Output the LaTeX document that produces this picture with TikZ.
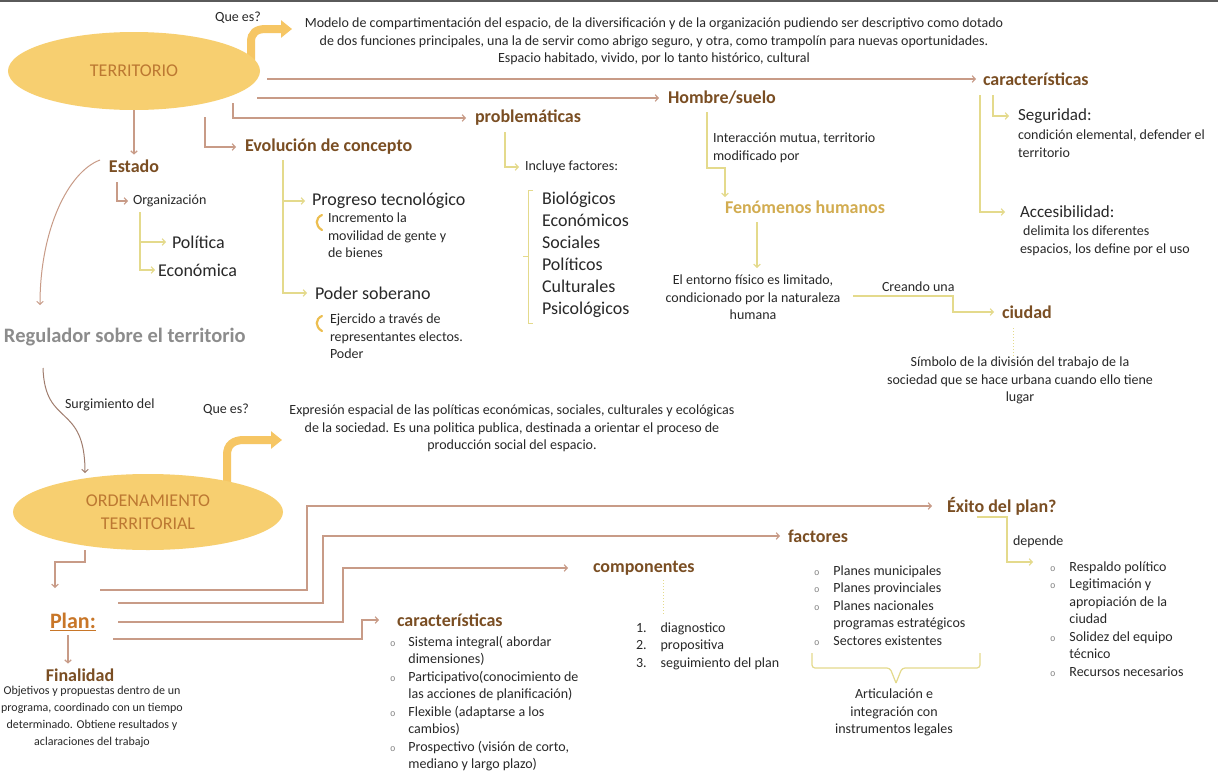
\documentclass[tikz,border=0pt]{standalone}
\usepackage{fontspec}
\setmainfont{Carlito}
\newfontfamily\bulf{Liberation Mono}
\usetikzlibrary{arrows.meta,shapes.geometric}
\definecolor{ellf}{RGB}{247,207,112}
\definecolor{ellt}{RGB}{188,120,50}
\definecolor{headc}{RGB}{122,78,35}
\definecolor{fenc}{RGB}{210,172,80}
\definecolor{planc}{RGB}{200,118,40}
\definecolor{rosec}{RGB}{200,155,135}
\definecolor{yelc}{RGB}{228,218,140}
\definecolor{fatc}{RGB}{246,198,100}
\definecolor{regc}{RGB}{140,140,140}
\definecolor{txt}{RGB}{40,40,40}
\definecolor{curlc}{RGB}{236,190,80}
\newcommand{\fs}[2]{\fontsize{#1}{#2}\selectfont}
\newcommand{\bul}{{\bulf\color{gray}\fontsize{9}{9}\selectfont o}}
\begin{document}
\begin{tikzpicture}[x=1pt,y=-1pt,
  every node/.style={inner sep=0pt, outer sep=0pt, text=txt},
  body/.style={font=\fs{14}{17.5}},
  head/.style={font=\fs{18}{22}\bfseries, text=headc},
  big/.style={font=\fs{18}{22}},
  ell/.style={ellipse, fill=ellf, text=ellt, font=\fs{18}{23}, align=center},
  rl/.style={draw=rosec, line width=1.2pt},
  yl/.style={draw=yelc, line width=1.2pt},
  tip/.style={-{Straight Barb[length=3pt,width=6.5pt]}},
  fat/.style={draw=fatc, line width=8pt, -{Triangle[length=11pt,width=17pt]}},
  curl/.style={draw=curlc, line width=2.2pt, line cap=round},
]
\useasboundingbox (0,0) rectangle (1218,771);
\fill[white] (0,0) rectangle (1218,771);
\draw[line width=2pt, draw={rgb,255:red,90;green,90;blue,90}] (0,1) -- (1218,1);

% ---------- fat arrows (under ellipses)
\coordinate (f1a) at (251,62);
\coordinate (f1b) at (292,29);
\draw[fat] (f1a) -- (251,42) .. controls (251,33) and (256,29) .. (266,29) -- (f1b);
\coordinate (f2a) at (227,486);
\coordinate (f2b) at (282,440);
\draw[fat] (f2a) -- (227,455) .. controls (227,445) and (233,440) .. (244,440) -- (f2b);

% ---------- top half nodes
\node[ell, minimum width=252pt, minimum height=78pt] (terr) at (134,71) {TERRITORIO};
\node[body] (qe1) at (238,18) {Que es?};
\node[body, align=center, anchor=north] (modelo) at (654,18) {Modelo de compartimentación del espacio, de la diversificación y de la organización pudiendo ser descriptivo como dotado\\de dos funciones principales, una la de servir como abrigo seguro, y otra, como trampolín para nuevas oportunidades.\\Espacio habitado, vivido, por lo tanto histórico, cultural};

\node[head, anchor=west] (carac1) at (983,79) {características};
\node[head, anchor=west] (hombre) at (668,98) {Hombre/suelo};
\node[head, anchor=west] (probl) at (475,118) {problemáticas};
\node[head, anchor=west] (evol) at (245,147) {Evolución de concepto};
\node[head] (estado) at (134,166) {Estado};

\node[body, anchor=west] (org) at (133,201) {Organización};
\node[big, anchor=west] (pol) at (172,242) {Política};
\node[big, anchor=west] (eco) at (158,270) {Económica};

\node[big, anchor=west] (prog) at (312,201) {Progreso tecnológico};
\node[big, anchor=west] (poder) at (315,293) {Poder soberano};
\node[body, align=left, anchor=north west] (incr) at (328,213) {Incremento la\\movilidad de gente y\\de bienes};
\node[body, align=left, anchor=north west] (ejer) at (330,314) {Ejercido a través de\\representantes electos.\\Poder};

\node[body, anchor=west] (incl) at (525,167) {Incluye factores:};
\node[big, align=left, anchor=north west] (facts) at (542,192) {Biológicos\\Económicos\\Sociales\\Políticos\\Culturales\\Psicológicos};

\node[body, align=left, anchor=north west] (inter) at (713,133) {Interacción mutua, territorio\\modificado por};
\node[font=\fs{18}{22}\bfseries, text=fenc, anchor=west] (fen) at (725,207) {Fenómenos humanos};
\node[body, align=center, anchor=north] (ent) at (753,275) {El entorno físico es limitado,\\condicionado por la naturaleza\\humana};
\node[body, anchor=west] (crea) at (882,287) {Creando una};
\node[head, anchor=west] (ciudad) at (1002,312) {ciudad};
\node[body, align=center, anchor=north] (simb) at (1020,357) {Símbolo de la división del trabajo de la\\sociedad que se hace urbana cuando ello tiene\\lugar};

\node[font=\fs{17}{20}, anchor=west] (seg) at (1018,116) {Seguridad:};
\node[body, align=left, anchor=north west] (segt) at (1018,130) {condición elemental, defender el\\territorio};
\node[font=\fs{17}{20}, anchor=west] (acc) at (1020,212) {Accesibilidad:};
\node[body, align=left, anchor=north west] (acct) at (1020,226) {\ delimita los diferentes\\espacios, los define por el uso};

\node[font=\fs{20.5}{24}\bfseries, text=regc, anchor=west] (reg) at (4,337) {Regulador sobre el territorio};
\node[body, anchor=west] (surg) at (65,405) {Surgimiento del};

% ---------- top half connectors
\coordinate (t1) at (267,79);
\draw[rl,tip] (t1) -- ([xshift=-7pt]carac1.west);
\coordinate (t2) at (257,98);
\draw[rl,tip] (t2) -- ([xshift=-9pt]hombre.west);
\coordinate (t3) at (233,103);
\draw[rl,tip] (t3) |- ([xshift=-9pt]probl.west);
\coordinate (t4) at (205,117);
\draw[rl,tip] (t4) |- ([xshift=-9pt]evol.west);
\draw[rl,tip] (terr.south) -- ([yshift=5pt]estado.north);
\coordinate (e1) at (100,160);
\coordinate (regin) at (40,305);
\draw[draw=rosec, line width=1pt, tip] (e1) .. controls (68,172) and (40,230) .. (regin);
\coordinate (r1) at (43,368);
\coordinate (ordin) at (85,473);
\draw[draw={rgb,255:red,160;green,125;blue,110}, line width=1pt, tip] (r1) .. controls (45,428) and (85,402) .. (ordin);

\coordinate (e2) at (117,182);
\draw[rl,tip] (e2) |- ([xshift=-5pt]org.west);
\coordinate (o1) at (140,212);
\draw[yl,tip] (o1) |- ([xshift=-6pt]pol.west);
\draw[yl,tip] (o1) |- ([xshift=-3pt]eco.west);

\coordinate (v1) at (283,160);
\draw[yl,tip] (v1) |- ([xshift=-7pt]prog.west);
\draw[yl,tip] (v1) |- ([xshift=-8pt]poder.west);
\draw[curl] (322,215) .. controls (315,218) and (315,226) .. (322,230);
\draw[curl] (322,316) .. controls (315,319) and (315,327) .. (322,331);

\coordinate (p1) at (505,132);
\draw[yl,tip] (p1) |- ([xshift=-6pt]incl.west);
\draw[draw=yelc, line width=1pt] (533,190) -- (528,190) -- (528,323) -- (533,323);
\draw[draw=yelc, line width=1pt] (528,256) -- (523,256);

\coordinate (h1) at (707,112);
\coordinate (fenin) at (725,197);
\draw[yl,tip] (h1) -- (707,168) -- (725,168) -- (fenin);
\coordinate (fo) at (757,222);
\coordinate (entin) at (757,268);
\draw[yl,tip] (fo) -- (entin);
\coordinate (en1) at (853,296);
\draw[yl,tip] (en1) -- (953,296) -- (953,312) -- ([xshift=-8pt]ciudad.west);
\coordinate (c1) at (1013,328);
\coordinate (c2) at (1013,356);
\draw[draw=yelc, line width=1pt, dotted] (c1) -- (c2);

\coordinate (k1) at (993,95);
\draw[yl,tip] (k1) |- ([xshift=-9pt]seg.west);
\coordinate (k2) at (980,95);
\draw[yl,tip] (k2) |- ([xshift=-15pt]acc.west);

% ---------- lower half nodes
\node[ell, minimum width=270pt, minimum height=76pt] (ord) at (148,512) {ORDENAMIENTO\\TERRITORIAL};
\node[body] (qe2) at (226,410) {Que es?};
\node[body, align=center, anchor=north] (expr) at (512,405) {Expresión espacial de las políticas económicas, sociales, culturales y ecológicas\\de la sociedad. Es una politica publica, destinada a orientar el proceso de\\producción social del espacio.};

\node[font=\fs{22}{26}\bfseries, text=planc, anchor=west] (plan) at (50,622) {\underline{Plan:}};
\node[head, anchor=west] (exito) at (947,506) {Éxito del plan?};
\node[head, anchor=west] (factores) at (788,536) {factores};
\node[head, anchor=west] (comp) at (593,568) {componentes};
\node[head, anchor=west] (carac2) at (397,620) {características};
\node[head] (fin) at (80,675) {Finalidad};
\node[font=\fs{12}{17}, align=center, anchor=north] (fint) at (92,686) {Objetivos y propuestas dentro de un\\programa, coordinado con un tiempo\\determinado. Obtiene resultados y\\aclaraciones del trabajo};
\node[body, anchor=west] (dep) at (1013,542) {depende};

\node[body, anchor=north west] (carl) at (390,634) {\begin{tabular}{@{}l@{\hspace{13pt}}l@{}}
\bul & Sistema integral( abordar\\
 & dimensiones)\\
\bul & Participativo(conocimiento de\\
 & las acciones de planificación)\\
\bul & Flexible (adaptarse a los\\
 & cambios)\\
\bul & Prospectivo (visión de corto,\\
 & mediano y largo plazo)
\end{tabular}};
\node[body, anchor=north west] (compl) at (636,620) {\begin{tabular}{@{}l@{\hspace{14pt}}l@{}}
1. & diagnostico\\
2. & propositiva\\
3. & seguimiento del plan
\end{tabular}};
\node[body, anchor=north west] (facl) at (814,563) {\begin{tabular}{@{}l@{\hspace{14pt}}l@{}}
\bul & Planes municipales\\
\bul & Planes provinciales\\
\bul & Planes nacionales\\
 & programas estratégicos\\
\bul & Sectores existentes
\end{tabular}};
\node[body, anchor=north west] (exl) at (1050,559) {\begin{tabular}{@{}l@{\hspace{14pt}}l@{}}
\bul & Respaldo político\\
\bul & Legitimación y\\
 & apropiación de la\\
 & ciudad\\
\bul & Solidez del equipo\\
 & técnico\\
\bul & Recursos necesarios
\end{tabular}};
\node[body, align=center, anchor=north] (art) at (894,689) {Articulación e\\integración con\\instrumentos legales};

% ---------- lower half connectors
\coordinate (o2) at (85,550);
\coordinate (planin) at (55,588);
\draw[rl,tip] (o2) -- (85,562) -- (55,562) -- (planin);
\coordinate (pl1) at (100,590);
\draw[rl,tip] (pl1) -- (307,590) -- (307,506) -- ([xshift=-15pt]exito.west);
\coordinate (pl2) at (118,603);
\draw[rl,tip] (pl2) -- (323,603) -- (323,536) -- ([xshift=-8pt]factores.west);
\coordinate (pl3) at (118,622);
\draw[rl,tip] (pl3) -- (343,622) -- (343,568) -- ([xshift=-25pt]comp.west);
\coordinate (pl4) at (113,639);
\draw[rl,tip] (pl4) -- (362,639) -- (362,620) -- ([xshift=-18pt]carac2.west);
\draw[rl,tip] ([yshift=-4pt]plan.south -| 68,0) -- ([yshift=5pt]fin.north -| 68,0);
\coordinate (x1) at (977,517);
\draw[yl,tip] (x1) -- (1007,517) -- (1007,562) -- (1033,562);
\coordinate (cp1) at (663,580);
\coordinate (cp2) at (663,615);
\draw[draw=yelc, line width=1pt, dotted] (cp1) -- (cp2);
\draw[draw=yelc, line width=1.2pt, rounded corners=3pt] (812,653) -- (812,668) -- (890,668) -- (896,683);
\draw[draw=yelc, line width=1.2pt, rounded corners=3pt] (896,683) -- (902,668) -- (980,668) -- (980,653);
\end{tikzpicture}
\end{document}
